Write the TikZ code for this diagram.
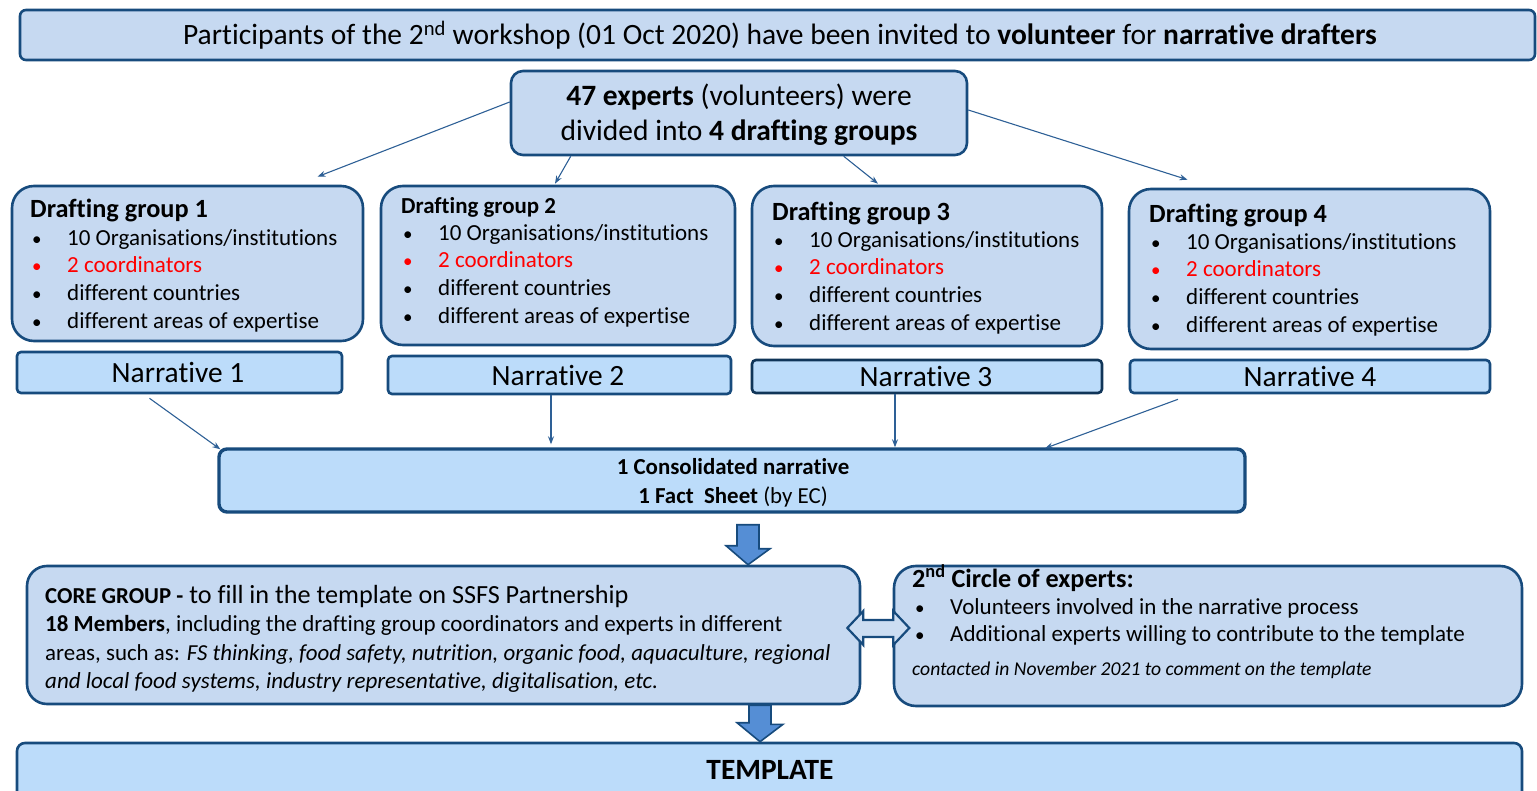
\documentclass[tikz,border=0pt]{standalone}
\usepackage{fontspec}
\setmainfont{Carlito}[Ligatures=NoCommon]
\usetikzlibrary{calc,fit,arrows.meta}
\definecolor{navy}{HTML}{174B7D}
\definecolor{grpfill}{HTML}{C6D9F1}
\definecolor{narrfill}{HTML}{BCDCFA}
\definecolor{connc}{HTML}{2E6096}
\definecolor{blk}{HTML}{558ED5}
\definecolor{dbl}{HTML}{CCDDF2}
\definecolor{redtxt}{HTML}{FF0000}
\newcommand{\fsz}[1]{\fontsize{#1}{#1}\selectfont}
\newcommand{\bl}[1]{\makebox[36pt][l]{\hspace{1pt}{\fsz{19}\textbullet}}#1}
\newcommand{\rbl}[1]{\textcolor{redtxt}{\bl{#1}}}
\begin{document}
\begin{tikzpicture}[x=1pt,y=-1pt,
  box/.style={draw=navy, line width=2.6pt, fill=grpfill, inner sep=0pt, rounded corners=#1},
  box/.default=18pt,
  nbox/.style={draw=navy, line width=2.6pt, fill=narrfill, inner sep=0pt, rounded corners=#1},
  nbox/.default=4pt,
  txt/.style={inner sep=0pt, anchor=base west, text=black},
  ctxt/.style={inner sep=0pt, anchor=base, text=black},
  conn/.style={draw=connc, line width=1.1pt, -{Stealth[length=8pt,width=6pt]}},
  blockarrow/.style={draw=navy, line width=1.6pt, fill=blk},
  dblarrow/.style={draw=navy, line width=2.2pt, fill=dbl}
]
\useasboundingbox (0,0) rectangle (1537,791);

% boxes
\node[box=6pt, fit={(20,10)(1535,60)}] (top) {};
\node[box=12pt, fit={(511,71)(967,155)}] (exp) {};
\node[box=22pt, fit={(12,186)(363,341)}] (g1) {};
\node[box=22pt, fit={(381,186)(735,345)}] (g2) {};
\node[box=22pt, fit={(752,186)(1102,346)}] (g3) {};
\node[box=22pt, fit={(1129,189)(1490,349)}] (g4) {};
\node[nbox, fit={(17,352)(342,393)}] (n1) {};
\node[nbox, fit={(388,356)(731,394)}] (n2) {};
\node[nbox, draw=navy!70!black, fit={(752,360)(1102,393)}] (n3) {};
\node[nbox, fit={(1130,360)(1490,393)}] (n4) {};
\node[nbox=8pt, line width=3.4pt, fit={(219,449)(1245,512)}] (cons) {};
\node[box=20pt, fit={(27,566)(860,704)}] (core) {};
\node[box=22pt, fit={(894,566)(1522,706)}] (circ) {};
\node[nbox=8pt, fit={(17,743)(1522,820)}] (tpl) {};

% texts
\node[ctxt] (ttop) at (780,44.5) {\fsz{29.5}Participants of the 2\textsuperscript{nd} workshop (01 Oct 2020) have been invited to \textbf{volunteer} for \textbf{narrative drafters}};
\node[ctxt] (texp1) at (739,105.5) {\fsz{29.5}\textbf{47 experts} (volunteers) were};
\node[ctxt] (texp2) at (739,140.5) {\fsz{29.5}divided into \textbf{4 drafting groups}};

\node[txt] (g1t) at (30,217.5) {\fsz{26.3}\textbf{Drafting group 1}};
\node[txt] (g1a) at (31,246) {\fsz{23}\bl{10 Organisations/institutions}};
\node[txt] (g1b) at (31,273) {\fsz{23}\rbl{2 coordinators}};
\node[txt] (g1c) at (31,301) {\fsz{23}\bl{different countries}};
\node[txt] (g1d) at (31,329) {\fsz{23}\bl{different areas of expertise}};

\node[txt] (g2t) at (401,213.5) {\fsz{22.9}\textbf{Drafting group 2}};
\node[txt] (g2a) at (402,241) {\fsz{23}\bl{10 Organisations/institutions}};
\node[txt] (g2b) at (402,268) {\fsz{23}\rbl{2 coordinators}};
\node[txt] (g2c) at (402,296) {\fsz{23}\bl{different countries}};
\node[txt] (g2d) at (402,324) {\fsz{23}\bl{different areas of expertise}};

\node[txt] (g3t) at (772,220.5) {\fsz{26.3}\textbf{Drafting group 3}};
\node[txt] (g3a) at (773,248) {\fsz{23}\bl{10 Organisations/institutions}};
\node[txt] (g3b) at (773,275) {\fsz{23}\rbl{2 coordinators}};
\node[txt] (g3c) at (773,303) {\fsz{23}\bl{different countries}};
\node[txt] (g3d) at (773,331) {\fsz{23}\bl{different areas of expertise}};

\node[txt] (g4t) at (1149,222.5) {\fsz{26.3}\textbf{Drafting group 4}};
\node[txt] (g4a) at (1150,250) {\fsz{23}\bl{10 Organisations/institutions}};
\node[txt] (g4b) at (1150,277) {\fsz{23}\rbl{2 coordinators}};
\node[txt] (g4c) at (1150,305) {\fsz{23}\bl{different countries}};
\node[txt] (g4d) at (1150,333) {\fsz{23}\bl{different areas of expertise}};

\node[ctxt] (n1t) at (178,382.5) {\fsz{29.4}Narrative 1};
\node[ctxt] (n2t) at (558,385.5) {\fsz{29.4}Narrative 2};
\node[ctxt] (n3t) at (926,386.5) {\fsz{29.4}Narrative 3};
\node[ctxt] (n4t) at (1310,386.5) {\fsz{29.4}Narrative 4};

\node[ctxt] (c1) at (733,475) {\fsz{22.9}\textbf{1 Consolidated narrative}};
\node[ctxt] (c2) at (733,503) {\fsz{22.9}\textbf{1 Fact\ \ Sheet} (by EC)};

\node[txt] (k1) at (45,603) {\fsz{26.2}\textbf{\fsz{22.8}CORE GROUP -} to fill in the template on SSFS Partnership};
\node[txt] (k2) at (45,631.5) {\fsz{23}\textbf{18 Members}, including the drafting group coordinators and experts in different};
\node[txt] (k3) at (45,660.5) {\fsz{22.9}areas, such as: \textit{FS thinking, food safety, nutrition, organic food, aquaculture, regional}};
\node[txt] (k4) at (45,688.5) {\fsz{23}\textit{and local food systems, industry representative, digitalisation, etc.}};

\node[txt] (s1) at (912,587) {\fsz{26.2}\textbf{2\textsuperscript{nd} Circle of experts:}};
\node[txt] (s2) at (914,614.5) {\fsz{23}\bl{Volunteers involved in the narrative process}};
\node[txt] (s3) at (914,641.5) {\fsz{23}\bl{Additional experts willing to contribute to the template}};
\node[txt] (s4) at (912,675.5) {\fsz{19.6}\textit{contacted in November 2021 to comment on the template}};

\node[ctxt] (tplt) at (770,779) {\fsz{29.4}\textbf{TEMPLATE}};

% connectors
\draw[conn] ($(exp.west)+(0,-11)$) -- ($(g1.north)+(130,-8)$);
\draw[conn] ($(exp.south west)+(61,0)$) -- ($(g2.north)+(-3,-1)$);
\draw[conn] ($(exp.south west)+(334,0)$) -- ($(g3.north)+(-49,-1)$);
\draw[conn] ($(exp.east)+(0,-3)$) -- ($(g4.north)+(-122,-8)$);

\draw[conn] ($(n1.south)+(-30,4)$) -- ($(cons.north west)+(3,2)$);
\draw[conn] (n2.south -| 551,0) -- ($(cons.north -| 551,0)+(0,-3)$);
\draw[conn] (n3.south -| 895,0) -- ($(cons.north -| 895,0)+(0,0)$);
\draw[conn] ($(n4.south)+(-132,5)$) -- ($(cons.north)+(313,1)$);

% block arrows
\coordinate (a1) at ($(cons.south)+(16,11)$);
\draw[blockarrow] ($(a1)+(-11,0)$) -- ++(22,0) -- ++(0,24) -- ++(11,0) -- (core.north -| a1) -- ++(-22,-19) -- ++(11,0) -- cycle;
\coordinate (a2) at ($(core.south)+(316.5,0)$);
\draw[blockarrow] ($(a2)+(-11,0)$) -- ++(22,0) -- ++(0,19) -- ++(12,0) -- (tpl.north -| a2) -- ++(-23,-19) -- ++(12,0) -- cycle;
\coordinate (dc) at ($(core.east)+(17,-7)$);
\draw[dblarrow] ($(dc)+(-31,0)$) -- ++(16,-17) -- ++(0,9) -- ++(30,0) -- ++(0,-9) -- ++(16,17) -- ++(-16,17) -- ++(0,-8) -- ++(-30,0) -- ++(0,8) -- cycle;
\end{tikzpicture}
\end{document}
